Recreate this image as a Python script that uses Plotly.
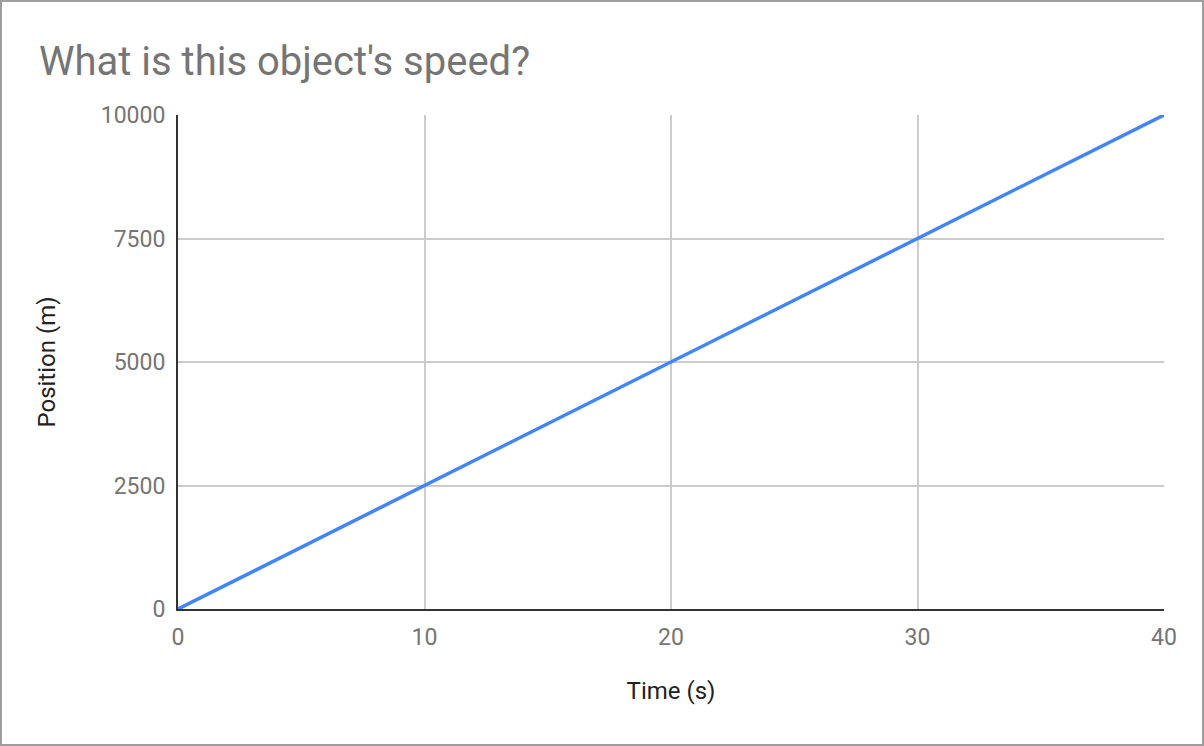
import plotly.graph_objects as go

time_s = [0, 10, 20, 30, 40]
position_m = [0, 2500, 5000, 7500, 10000]
x_ticks = [0, 10, 20, 30, 40]
y_ticks = [0, 2500, 5000, 7500, 10000]
y_tick_text = ["0", "2500", "5000", "7500", "10000"]

W, H = 1204, 746
L, R, T, B = 178, 40, 115, 137
pw, ph = W - L - R, H - T - B

fig = go.Figure()
fig.add_trace(go.Scatter(x=time_s, y=position_m, mode="lines",
                         line=dict(color="#4285F4", width=3.5), showlegend=False))

font_tick = dict(family="Roboto", size=23, color="#757575")
font_axis = dict(family="Roboto", size=24, color="#222222")
fig.update_layout(
    width=W, height=H,
    margin=dict(l=L, r=R, t=T, b=B, autoexpand=False),
    paper_bgcolor="white", plot_bgcolor="white",
    title=dict(text="What is this object's speed?", x=39 / W, xanchor="left",
               y=1 - 61 / H, yanchor="middle",
               font=dict(family="Roboto", size=40, color="#757575")),
    xaxis=dict(range=[0, 40], tickvals=x_ticks, showgrid=True, gridcolor="#cccccc",
               gridwidth=1.5, zeroline=False, showline=True, linecolor="#333333",
               linewidth=2, ticks="", tickfont=font_tick, ticklabelstandoff=6,
               title=dict(text="Time (s)", font=font_axis, standoff=33)),
    yaxis=dict(range=[0, 10000], tickvals=y_ticks, ticktext=y_tick_text,
               showgrid=True, gridcolor="#cccccc",
               gridwidth=1.5, zeroline=False, showline=True, linecolor="#333333",
               linewidth=2, ticks="", tickfont=font_tick, ticklabelstandoff=6,
               title=dict(text="Position (m)", font=font_axis, standoff=38)),
)
fig.add_shape(type="rect", xref="paper", yref="paper",
              x0=(1 - L) / pw, x1=(W - 1 - L) / pw,
              y0=(T + ph - (H - 1)) / ph, y1=(T + ph - 1) / ph,
              line=dict(color="#9e9e9e", width=2), layer="above")

fig.write_html("out.html", config={"displayModeBar": False},
               post_script="document.body.style.margin='0';document.body.style.overflow='hidden';")
